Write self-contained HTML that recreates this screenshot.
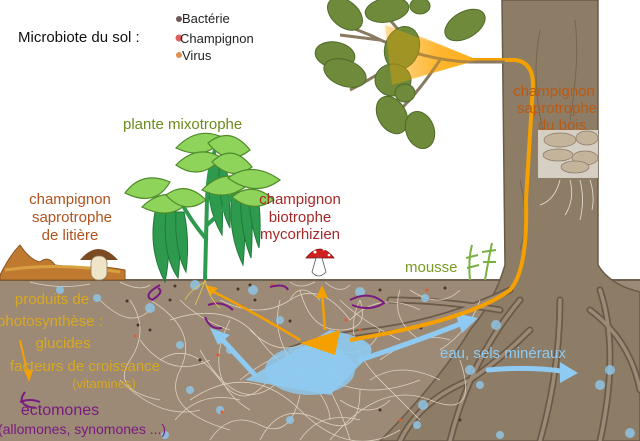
<!DOCTYPE html>
<html><head><meta charset="utf-8"><style>
html,body{margin:0;padding:0;background:#fff}
svg{display:block}
text{font-family:"Liberation Sans",sans-serif}
</style></head><body>
<svg width="640" height="441" viewBox="0 0 640 441" xmlns="http://www.w3.org/2000/svg">
<defs>
<linearGradient id="og" x1="0" y1="0" x2="1" y2="0"><stop offset="0" stop-color="#ffa500" stop-opacity="0"/><stop offset="0.6" stop-color="#ffa500" stop-opacity="0.85"/><stop offset="1" stop-color="#ffa500"/></linearGradient>
</defs>
<rect width="640" height="441" fill="#fff"/>
<rect x="0" y="280" width="640" height="161" fill="#9c8a76"/>
<line x1="0" y1="280" x2="640" y2="280" stroke="#6e6050" stroke-width="2"/>
<path d="M502,0 L598,0 L598,265 Q610,285 640,292 L640,441 L380,441 Q440,380 470,330 Q495,300 505,265 Z" fill="#8e7d66" stroke="#6a5a48" stroke-width="1.5"/>
<path d="M540,30 Q530,80 545,140 M575,20 Q580,60 570,120 M520,180 Q530,220 520,250" stroke="#75664f" fill="none"/>
<g stroke="#6a5a48" stroke-width="7" fill="none" stroke-linecap="round">
<path d="M510,290 Q450,320 380,330 Q330,335 290,350"/>
<path d="M520,300 Q470,360 450,441"/>
<path d="M560,300 Q560,370 540,441"/>
<path d="M600,290 Q620,350 600,441"/>
<path d="M500,310 Q440,300 390,300"/>
<path d="M530,330 Q500,360 470,380 Q420,400 400,441"/>
<path d="M590,310 Q630,340 640,390"/>
</g>
<g stroke="#9c8a76" stroke-width="3.5" fill="none" stroke-linecap="round">
<path d="M510,290 Q450,320 380,330 Q330,335 290,350"/>
<path d="M520,300 Q470,360 450,441"/>
<path d="M560,300 Q560,370 540,441"/>
<path d="M600,290 Q620,350 600,441"/>
<path d="M500,310 Q440,300 390,300"/>
<path d="M530,330 Q500,360 470,380 Q420,400 400,441"/>
<path d="M590,310 Q630,340 640,390"/>
</g>
<g stroke="#e8ddcc" stroke-width="0.8" fill="none" opacity="0.85">
<path d="M150,300 Q200,330 180,370 T230,430 M170,320 Q230,300 260,340 T330,380 Q370,400 420,380 M190,400 Q250,360 300,410 T400,430 M220,300 Q260,320 290,300 T350,320 Q380,290 420,310 M240,380 Q290,340 330,350 T380,330 M260,440 Q280,400 320,420 T360,390 M300,290 Q310,330 340,330 T360,300 M200,350 Q240,420 280,380 T350,440 M140,340 Q170,380 210,360 M330,440 Q380,380 430,400 T460,360 M280,300 Q270,340 300,370 T330,420 M380,360 Q420,330 450,340 M120,380 Q160,420 200,410 M360,300 Q340,340 380,380 T420,420 M230,320 Q200,380 250,410 M100,300 Q130,330 150,310 M410,290 Q440,310 460,290 M440,350 Q470,330 480,300"/>
<path d="M160,360 Q190,340 220,380 T280,360 M210,440 Q230,410 260,425 T300,395 M180,300 Q200,320 230,330 M250,330 Q280,360 310,340 M340,300 Q360,320 400,340 M300,440 Q320,410 360,420 M370,380 Q400,360 440,380 M130,300 Q150,330 130,360 T160,400 M175,420 Q200,390 240,400 M290,300 Q300,280 320,300 M400,290 Q390,320 420,340 M340,400 Q370,420 390,400"/>
<path d="M30,282 Q60,290 90,284 M120,282 Q140,292 150,285 M290,282 Q300,290 315,282 M325,282 Q340,295 350,285"/>
</g>
<g fill="#8ec8ec" opacity="0.8">
<circle cx="60" cy="290" r="4"/><circle cx="97" cy="298" r="4"/><circle cx="150" cy="308" r="5"/><circle cx="195" cy="285" r="5"/><circle cx="180" cy="345" r="4"/><circle cx="230" cy="350" r="4"/><circle cx="190" cy="390" r="4"/><circle cx="165" cy="435" r="4"/><circle cx="220" cy="410" r="4"/><circle cx="253" cy="290" r="5"/><circle cx="280" cy="320" r="4"/><circle cx="360" cy="292" r="5"/><circle cx="425" cy="298" r="4"/><circle cx="496" cy="325" r="5"/><circle cx="470" cy="370" r="5"/><circle cx="480" cy="385" r="4"/><circle cx="423" cy="405" r="5"/><circle cx="417" cy="425" r="4"/><circle cx="500" cy="435" r="4"/><circle cx="610" cy="370" r="5"/><circle cx="600" cy="385" r="5"/><circle cx="630" cy="433" r="5"/><circle cx="330" cy="370" r="5"/><circle cx="290" cy="420" r="4"/>
</g>
<g fill="#4a3528"><circle cx="127" cy="301" r="1.5"/><circle cx="170" cy="300" r="1.5"/><circle cx="138" cy="325" r="1.5"/><circle cx="150" cy="330" r="1.5"/><circle cx="200" cy="360" r="1.5"/><circle cx="250" cy="285" r="1.5"/><circle cx="255" cy="300" r="1.5"/><circle cx="238" cy="289" r="1.5"/><circle cx="290" cy="321" r="1.5"/><circle cx="380" cy="290" r="1.5"/><circle cx="445" cy="288" r="1.5"/><circle cx="421" cy="328" r="1.5"/><circle cx="380" cy="410" r="1.5"/><circle cx="460" cy="420" r="1.5"/><circle cx="175" cy="286" r="1.5"/></g>
<g fill="#e05a30"><circle cx="135" cy="336" r="1.5"/><circle cx="218" cy="355" r="1.5"/><circle cx="272" cy="285" r="1.5"/><circle cx="242" cy="306" r="1.5"/><circle cx="222" cy="412" r="1.5"/><circle cx="346" cy="320" r="1.5"/><circle cx="360" cy="330" r="1.5"/><circle cx="427" cy="290" r="1.5"/><circle cx="400" cy="420" r="1.5"/></g>
<path d="M245,380 L330,330 Q380,340 370,355 L330,395 Z" fill="#8ecaf2" opacity="0.9"/>
<ellipse cx="310" cy="370" rx="45" ry="25" fill="#8ecaf2" opacity="0.8"/>
<g stroke="#8ecaf2" stroke-width="5" fill="none" stroke-linecap="round">
<path d="M255,375 L218,335"/>
<path d="M360,360 Q420,340 465,322"/>
<path d="M488,370 Q530,366 568,372"/>
</g>
<polygon points="210,328 230,335 218,345" fill="#8ecaf2"/>
<polygon points="478,318 455,313 462,333" fill="#8ecaf2"/>
<polygon points="578,373 560,362 560,383" fill="#8ecaf2"/>
<polygon points="380,20 478,60 390,85" fill="url(#og)" opacity="0.85"/>
<path d="M470,60 L515,60 Q533,62 533,85 L526,200 Q528,270 510,290 Q470,320 350,340" stroke="#f4a000" stroke-width="4" fill="none"/>
<polygon points="300,343 340,330 335,355" fill="#f4a000"/>
<path d="M300,340 Q250,310 210,290" stroke="#f4a000" stroke-width="2.5" fill="none"/>
<polygon points="205,285 218,288 210,296" fill="#f4a000"/>
<path d="M325,330 L322,292" stroke="#f4a000" stroke-width="2.5"/>
<polygon points="322,285 316,298 328,298" fill="#f4a000"/>
<path d="M20,340 L28,375" stroke="#f4a000" stroke-width="2"/>
<polygon points="29,382 24,370 33,370" fill="#f4a000"/>
<g stroke="#7a1a80" stroke-width="2" fill="none">
<path d="M160,285 Q142,295 152,300 Q165,292 158,288"/>
<path d="M208,305 Q222,300 233,310 M205,317 Q210,330 222,328"/>
<path d="M350,300 Q370,290 384,303 Q370,312 352,305"/>
<path d="M270,287 Q285,283 288,290"/>
<path d="M25,392 Q15,405 35,408 M20,402 Q30,398 40,402"/>
</g>
<!-- oak branch -->
<g stroke="#8a7a60" stroke-width="3" fill="none">
<path d="M505,62 L470,62 Q420,60 370,35 M420,55 L390,20 M440,60 Q420,90 400,110 M370,35 L345,25 M400,60 Q370,80 350,90 M380,40 L340,35"/>
</g>
<g fill="#6e8a3a" stroke="#4e6a28" stroke-width="1">
<ellipse cx="345" cy="14" rx="20" ry="13" transform="rotate(40 345 14)"/>
<ellipse cx="387" cy="10" rx="22" ry="12" transform="rotate(-10 387 10)"/>
<ellipse cx="420" cy="6" rx="10" ry="8"/>
<ellipse cx="465" cy="25" rx="22" ry="13" transform="rotate(-30 465 25)"/>
<ellipse cx="335" cy="55" rx="20" ry="13" transform="rotate(10 335 55)"/>
<ellipse cx="345" cy="73" rx="22" ry="13" transform="rotate(20 345 73)"/>
<ellipse cx="402" cy="48" rx="17" ry="22" transform="rotate(20 402 48)"/>
<ellipse cx="393" cy="80" rx="18" ry="16"/>
<ellipse cx="405" cy="93" rx="10" ry="9"/>
<ellipse cx="392" cy="115" rx="14" ry="20" transform="rotate(-30 392 115)"/>
<ellipse cx="420" cy="130" rx="14" ry="19" transform="rotate(-20 420 130)"/>
</g>
<polygon points="385,25 478,60 392,85" fill="#ffa500" opacity="0.35"/>
<rect x="538" y="130" width="60" height="48" fill="#e8e4dc" opacity="0.8"/>
<g fill="#c4b49c" stroke="#8a7a66" stroke-width="0.7">
<ellipse cx="560" cy="140" rx="16" ry="7"/><ellipse cx="587" cy="138" rx="11" ry="7"/><ellipse cx="558" cy="155" rx="15" ry="6"/><ellipse cx="585" cy="158" rx="13" ry="7"/><ellipse cx="575" cy="167" rx="14" ry="6"/>
</g>
<g stroke="#e8e0d6" stroke-width="0.8" fill="none"><path d="M560,180 Q555,200 540,205 M570,180 Q575,200 565,215 M580,180 Q585,200 580,220 M590,180 Q595,195 592,210"/></g>
<!-- plant -->
<g fill="#2e9a4e" stroke="#1e7a3a" stroke-width="1">
<path d="M155,212 Q148,250 165,282 Q172,248 166,212Z"/>
<path d="M166,212 Q162,255 178,278 Q182,248 176,212Z"/>
<path d="M176,212 Q174,250 186,272 Q190,240 184,212Z"/>
<path d="M210,165 Q204,205 222,235 Q224,195 219,165Z"/>
<path d="M219,165 Q218,205 230,228 Q230,190 226,165Z"/>
<path d="M232,192 Q227,232 243,265 Q247,226 241,192Z"/>
<path d="M241,192 Q239,228 251,258 Q254,220 249,192Z"/>
<path d="M249,192 Q249,222 259,248 Q262,215 257,192Z"/>
</g>
<g stroke="#2e9a4e" stroke-width="4" fill="none"><path d="M205,280 L207,200 Q208,170 215,150 M207,240 Q190,220 180,200 M207,225 Q230,205 240,180"/></g>
<g fill="#8ed45a" stroke="#4e8a2a" stroke-width="1.2">
<path d="M125,193 Q142,170 170,182 Q155,208 125,193Z"/>
<path d="M142,207 Q163,186 190,200 Q172,222 142,207Z"/>
<path d="M166,195 Q186,180 206,200 Q185,216 166,195Z"/>
<path d="M176,148 Q198,125 224,138 Q206,162 176,148Z"/>
<path d="M176,165 Q198,143 222,158 Q200,182 176,165Z"/>
<path d="M208,143 Q230,125 250,150 Q228,168 208,143Z"/>
<path d="M212,162 Q232,142 252,167 Q232,182 212,162Z"/>
<path d="M202,190 Q225,166 250,183 Q228,203 202,190Z"/>
<path d="M228,178 Q252,160 280,180 Q256,198 228,178Z"/>
<path d="M232,197 Q252,180 274,200 Q252,214 232,197Z"/>
</g>
<g stroke="#e8c84a" stroke-width="0.8" fill="none"><path d="M205,280 Q200,295 195,305 M205,280 Q210,300 220,308 M205,282 Q190,290 185,300"/></g>
<path d="M0,275 Q10,255 20,245 Q30,260 40,262 Q48,255 55,265 L80,268 Q100,265 125,270 L125,280 L0,280Z" fill="#c07a30" stroke="#8a5520" stroke-width="1"/>
<path d="M5,270 Q60,262 120,272" stroke="#d8a040" stroke-width="3" fill="none"/>
<path d="M80,260 Q98,238 118,260Z" fill="#7a4a22"/>
<rect x="91" y="256" width="16" height="24" rx="7" fill="#f0e4c8" stroke="#8a7a60" stroke-width="0.8"/>
<path d="M306,258 Q320,240 334,258Z" fill="#d02020" stroke="#801010" stroke-width="0.8"/>
<circle cx="315" cy="252" r="1.5" fill="#fff"/><circle cx="324" cy="249" r="1.5" fill="#fff"/><circle cx="329" cy="255" r="1.3" fill="#fff"/>
<path d="M316,258 L312,272 Q318,280 326,272 L322,258Z" fill="#fff" stroke="#555" stroke-width="0.8"/>
<g stroke="#7ab040" stroke-width="2" fill="none"><path d="M470,280 Q468,260 472,245 M485,280 Q488,262 492,243 M466,258 L478,255 M482,252 L496,250 M467,268 L479,265 M483,262 L496,262"/></g>
<text x="18" y="42" font-size="15" fill="#111">Microbiote du sol :</text>
<circle cx="179" cy="19" r="3" fill="#6a5a5a"/><text x="182" y="23" font-size="13" fill="#222">Bactérie</text>
<circle cx="179" cy="38" r="3.5" fill="#e06060"/><text x="180" y="43" font-size="13" fill="#222">Champignon</text>
<circle cx="179" cy="55" r="3" fill="#e09050"/><text x="182" y="60" font-size="13" fill="#222">Virus</text>
<text x="123" y="129" font-size="15" fill="#6c8a1e">plante mixotrophe</text>
<g font-size="15" fill="#b0521e" text-anchor="middle"><text x="70" y="204">champignon</text><text x="72" y="222">saprotrophe</text><text x="70" y="240">de litière</text></g>
<g font-size="15" fill="#a82828" text-anchor="middle"><text x="300" y="204">champignon</text><text x="300" y="222">biotrophe</text><text x="300" y="239">mycorhizien</text></g>
<g font-size="15" fill="#b85a14" text-anchor="middle"><text x="554" y="96">champignon</text><text x="557" y="113">saprotrophe</text><text x="562" y="130">du bois</text></g>
<text x="405" y="272" font-size="15" fill="#7a9a22">mousse</text>
<g font-size="15" fill="#d8a820" text-anchor="middle"><text x="52" y="304">produits de</text><text x="50" y="326">photosynthèse :</text><text x="63" y="348">glucides</text><text x="85" y="371">facteurs de croissance</text><text x="104" y="388" font-size="13">(vitamines)</text></g>
<g fill="#7a1a80" text-anchor="middle"><text x="60" y="415" font-size="16">ectomones</text><text x="82" y="434" font-size="14">(allomones, synomones ...)</text></g>
<text x="440" y="358" font-size="15" fill="#8ecaf2">eau, sels minéraux</text>
</svg>
</body></html>
